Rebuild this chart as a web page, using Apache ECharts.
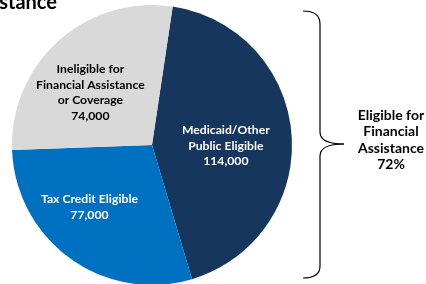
<!DOCTYPE html>
<html>
<head>
<meta charset="utf-8">
<script src="https://cdn.jsdelivr.net/npm/echarts@6/dist/echarts.min.js"></script>
<style>html,body{margin:0;padding:0;background:#fff;}#c{width:426px;height:284px;}</style>
</head>
<body>
<div id="c"></div>
<script>
var categories = ['Medicaid/Other\nPublic Eligible', 'Tax Credit Eligible', 'Ineligible for\nFinancial Assistance\nor Coverage'];
var values = [114000, 77000, 74000];
var sliceColors = ['#17365D', '#0070C0', '#D9D9D9'];
var labelColors = ['#FFFFFF', '#FFFFFF', '#000000'];
var titleText = 'Assistance';
var braceText = 'Eligible for\nFinancial\nAssistance\n72%';

var chart = echarts.init(document.getElementById('c'), null, {renderer: 'canvas'});
var FONT = 'Lato, "Open Sans", sans-serif';
var labelShift = [[1, 6], [-20, 3], [-13, 2]];
var data = categories.map(function (c, i) {
  return {
    name: c, value: values[i],
    itemStyle: {color: sliceColors[i]},
    label: {color: labelColors[i]}
  };
});
var braceStyle = {stroke: '#000', lineWidth: 1.2, fill: null};
function curve(x1, y1, cx, cy, x2, y2) {
  return {type: 'bezierCurve', shape: {x1: x1, y1: y1, cpx1: cx, cpy1: cy, x2: x2, y2: y2}, style: braceStyle, silent: true};
}
function seg(x1, y1, x2, y2) {
  return {type: 'line', shape: {x1: x1, y1: y1, x2: x2, y2: y2}, style: braceStyle, silent: true};
}
chart.setOption({
  animation: false,
  series: [{
    type: 'pie',
    center: [152, 145],
    radius: 140,
    startAngle: 81.5,
    clockwise: true,
    silent: true,
    emphasis: {disabled: true},
    itemStyle: {borderWidth: 0},
    label: {
      show: true,
      position: 'inside',
      fontFamily: FONT,
      fontWeight: 'bold',
      fontSize: 12.2,
      lineHeight: 15.5,
      align: 'center',
      formatter: function (p) {
        return p.name + '\n' + p.value.toLocaleString('en-US');
      }
    },
    labelLine: {show: false},
    labelLayout: function (p) {
      var s = labelShift[p.dataIndex];
      return {dx: s[0], dy: s[1]};
    },
    data: data
  }],
  graphic: [
    {
      type: 'text', x: 57, y: 13,
      style: {text: titleText, font: 'bold 20px ' + FONT, fill: '#000', align: 'right', verticalAlign: 'bottom'}
    },
    curve(303, 11, 320, 11, 320, 24),
    seg(320, 24, 320, 132),
    curve(320, 132, 320, 144, 344, 144),
    curve(344, 144, 320, 144, 320, 156),
    seg(320, 156, 320, 266),
    curve(320, 266, 320, 278, 303, 278),
    {
      type: 'text', x: 391, y: 140,
      style: {text: braceText, font: 'bold 14px ' + FONT, fill: '#000', align: 'center', verticalAlign: 'middle', lineHeight: 16.3}
    }
  ]
});
</script>
</body>
</html>
